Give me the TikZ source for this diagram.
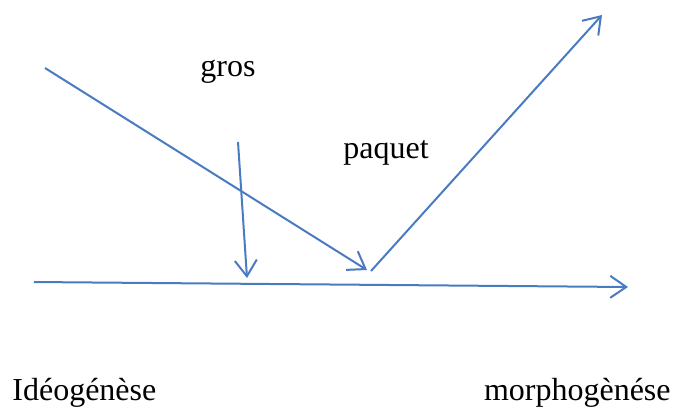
\documentclass[tikz,border=0pt]{standalone}
\usepackage{fontspec}
\setmainfont{Liberation Serif}
\usetikzlibrary{arrows.meta,positioning}
\definecolor{rayblue}{HTML}{4A7BC1}

\begin{document}
\begin{tikzpicture}[
  x=0.5pt, y=-0.5pt,
  ray/.style={draw=rayblue, line width=1pt,
              -{Straight Barb[length=8pt, width=11pt, line width=1pt]}},
  word/.style={font=\fontsize{16}{19}\selectfont, inner sep=0pt, anchor=base west}
]
\useasboundingbox (0,0) rectangle (673,408);

% end points of the rays
\coordinate (axisL) at (34,282);
\coordinate (axisR) at (628,287);
\coordinate (slantA) at (45,68);
\coordinate (slantB) at (367,270);
\coordinate (dropA) at (238,142);
\coordinate (dropB) at (247,278);
\coordinate (riseA) at (371,271);
\coordinate (riseB) at (602,15);

\draw[ray] (axisL) -- (axisR);
\draw[ray] (slantA) -- (slantB);
\draw[ray] (dropA) -- (dropB);
\draw[ray] (riseA) -- (riseB);

% labels
\node[word] (gros)   at (200,76)  {gros};
\node[word] (paquet) at (343,158) {paquet};
\node[word] (ideo)   at (12,400)  {Idéogénèse};
\node[word, anchor=base east] (morpho) at (671,400) {morphogènése};

\end{tikzpicture}
\end{document}
